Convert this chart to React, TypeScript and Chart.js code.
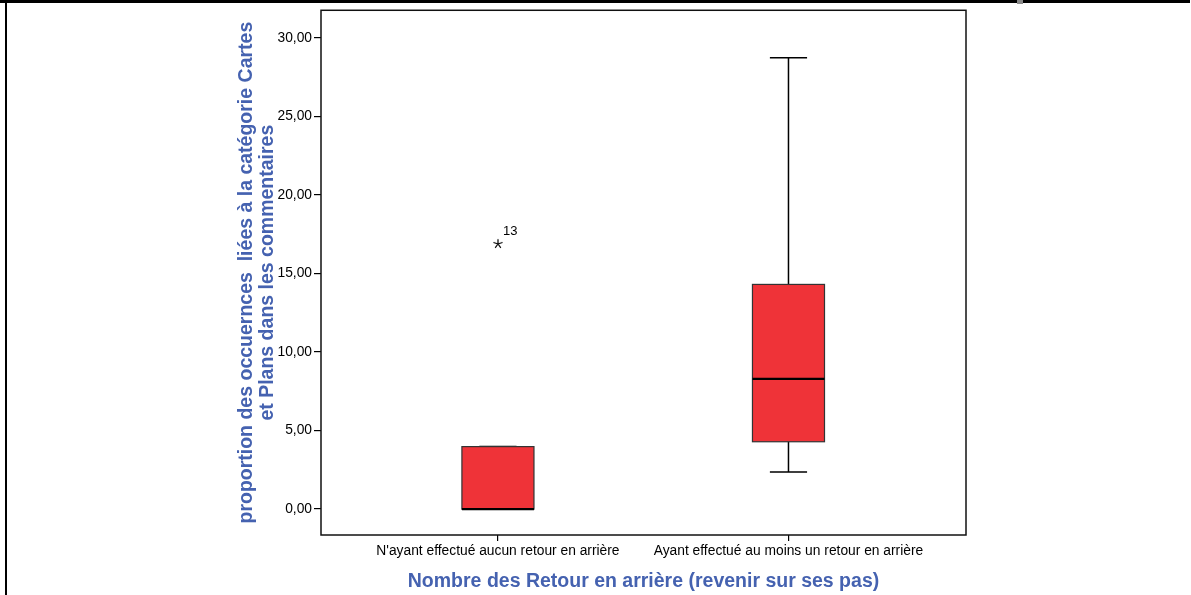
import React, { useEffect, useRef } from "react";
import { Chart, registerables } from "chart.js";

Chart.register(...registerables);

const categories = [
  "N'ayant effectué aucun retour en arrière",
  "Ayant effectué au moins un retour en arrière",
];
const xPositions = [1, 2];
const whiskerLow = [0, 2.37];
const q1Values = [0, 4.29];
const medianValues = [0, 8.3];
const q3Values = [3.98, 14.31];
const whiskerHigh = [3.98, 28.75];
const outlierX = [1];
const outlierY = [16.89];
const outlierLabels = ["13"];
const yTickValues = [0, 5, 10, 15, 20, 25, 30];

const yTitleLines = [
  "proportion des occuernces  liées à la catégorie Cartes",
  "et Plans dans les commentaires",
];
const xTitle = "Nombre des Retour en arrière (revenir sur ses pas)";

const BLUE = "#4562b0";
const RED = "#ef3338";
const FONT = "'Liberation Sans', Arial, sans-serif";

const fmt = (v: number) => v.toFixed(2).replace(".", ",");

function makeStar(): HTMLCanvasElement {
  const c = document.createElement("canvas");
  c.width = 12;
  c.height = 12;
  const g = c.getContext("2d")!;
  g.strokeStyle = "#000";
  g.lineWidth = 1.2;
  g.beginPath();
  for (let k = 0; k < 5; k++) {
    const a = (-90 + k * 72) * Math.PI / 180;
    g.moveTo(6, 6);
    g.lineTo(6 + 4.8 * Math.cos(a), 6 + 4.8 * Math.sin(a));
  }
  g.stroke();
  return c;
}

const boxPlugin = {
  id: "boxes",
  beforeDraw(chart: any) {
    const ctx = chart.ctx;
    ctx.save();
    ctx.fillStyle = "#ffffff";
    ctx.fillRect(0, 0, chart.width, chart.height);
    ctx.fillStyle = "#000";
    ctx.fillRect(0, 0, 1190, 3);
    ctx.fillRect(5, 0, 2, chart.height);
    ctx.fillStyle = "#8a8a8a";
    ctx.fillRect(1017, 0, 6, 4);
    ctx.restore();
  },
  beforeDatasetsDraw(chart: any) {
    const { ctx, scales } = chart;
    const x = scales.x;
    const y = scales.y;
    const boxHalf = 0.124;
    const capHalf = 0.064;
    ctx.save();
    for (let i = 0; i < xPositions.length; i++) {
      const cx = x.getPixelForValue(xPositions[i]);
      const bl = x.getPixelForValue(xPositions[i] - boxHalf);
      const br = x.getPixelForValue(xPositions[i] + boxHalf);
      const cl = x.getPixelForValue(xPositions[i] - capHalf);
      const cr = x.getPixelForValue(xPositions[i] + capHalf);
      const yq1 = y.getPixelForValue(q1Values[i]);
      const yq3 = y.getPixelForValue(q3Values[i]);
      const ymed = y.getPixelForValue(medianValues[i]);
      const ylo = y.getPixelForValue(whiskerLow[i]);
      const yhi = y.getPixelForValue(whiskerHigh[i]);
      ctx.strokeStyle = "#000";
      ctx.lineWidth = 1.5;
      ctx.beginPath();
      ctx.moveTo(cx, yq3);
      ctx.lineTo(cx, yhi);
      ctx.moveTo(cx, yq1);
      ctx.lineTo(cx, ylo);
      ctx.moveTo(cl, yhi);
      ctx.lineTo(cr, yhi);
      ctx.moveTo(cl, ylo);
      ctx.lineTo(cr, ylo);
      ctx.stroke();
      ctx.fillStyle = RED;
      ctx.fillRect(bl, yq3, br - bl, yq1 - yq3);
      ctx.strokeStyle = "#333";
      ctx.lineWidth = 1.2;
      ctx.strokeRect(bl, yq3, br - bl, yq1 - yq3);
      ctx.strokeStyle = "#000";
      ctx.lineWidth = 2.2;
      ctx.beginPath();
      ctx.moveTo(bl, ymed);
      ctx.lineTo(br, ymed);
      ctx.stroke();
    }
    ctx.restore();
  },
  afterDraw(chart: any) {
    const { ctx, chartArea } = chart;
    ctx.save();
    ctx.strokeStyle = "#111";
    ctx.lineWidth = 1.5;
    ctx.strokeRect(chartArea.left, chartArea.top, chartArea.right - chartArea.left, chartArea.bottom - chartArea.top);
    const meta = chart.getDatasetMeta(0);
    ctx.fillStyle = "#000";
    ctx.font = `13px ${FONT}`;
    ctx.textAlign = "left";
    ctx.textBaseline = "middle";
    meta.data.forEach((pt: any, i: number) => {
      ctx.fillText(outlierLabels[i], pt.x + 5, pt.y - 12);
    });
    ctx.restore();
  },
};

export default function App() {
  const ref = useRef<HTMLCanvasElement | null>(null);
  useEffect(() => {
    if (!ref.current) return;
    const star = makeStar();
    const chart = new Chart(ref.current, {
      type: "scatter",
      data: {
        datasets: [
          {
            data: outlierX.map((v, i) => ({ x: v, y: outlierY[i] })),
            pointStyle: star as any,
            radius: 5,
            borderColor: "#000",
            backgroundColor: "#000",
          },
        ],
      },
      options: {
        responsive: false,
        animation: false,
        layout: { padding: { top: 10, right: 225, bottom: 0, left: 0 } },
        plugins: { legend: { display: false }, tooltip: { enabled: false } },
        scales: {
          x: {
            type: "linear",
            min: 0.391,
            max: 2.611,
            afterBuildTicks: (scale: any) => {
              scale.ticks = xPositions.map((v) => ({ value: v }));
            },
            afterFit: (scale: any) => {
              scale.height = 60;
            },
            ticks: {
              color: "#000",
              font: { family: FONT, size: 13.8 },
              padding: 2,
              maxRotation: 0,
              autoSkip: false,
              callback: (v: any) => {
                const idx = xPositions.indexOf(Number(v));
                return idx >= 0 ? categories[idx] : "";
              },
            },
            grid: { drawOnChartArea: false, drawTicks: true, tickLength: 6, color: "#000", lineWidth: 1.2 },
            border: { display: false },
            title: {
              display: true,
              text: xTitle,
              color: BLUE,
              font: { family: FONT, size: 19.5, weight: "bold", lineHeight: 1.03 },
              padding: { top: 0, bottom: 3 },
            },
          },
          y: {
            type: "linear",
            min: -1.65,
            max: 31.77,
            afterBuildTicks: (scale: any) => {
              scale.ticks = yTickValues.map((v) => ({ value: v }));
            },
            afterFit: (scale: any) => {
              scale.width = 321;
            },
            ticks: {
              color: "#000",
              font: { family: FONT, size: 13.8 },
              padding: 2,
              callback: (v: any) => fmt(Number(v)),
            },
            grid: { drawOnChartArea: false, drawTicks: true, tickLength: 7, color: "#000", lineWidth: 1.2 },
            border: { display: false },
            title: {
              display: true,
              text: yTitleLines,
              color: BLUE,
              font: { family: FONT, size: 19.5, weight: "bold", lineHeight: 1.03 },
              padding: { top: 237, bottom: 0 },
            },
          },
        },
      },
      plugins: [boxPlugin],
    });
    return () => chart.destroy();
  }, []);
  return (
    <div style={{ position: "fixed", left: 0, top: 0, width: 1191, height: 595 }}>
      <canvas ref={ref} width={1191} height={595} style={{ width: 1191, height: 595 }} />
    </div>
  );
}
